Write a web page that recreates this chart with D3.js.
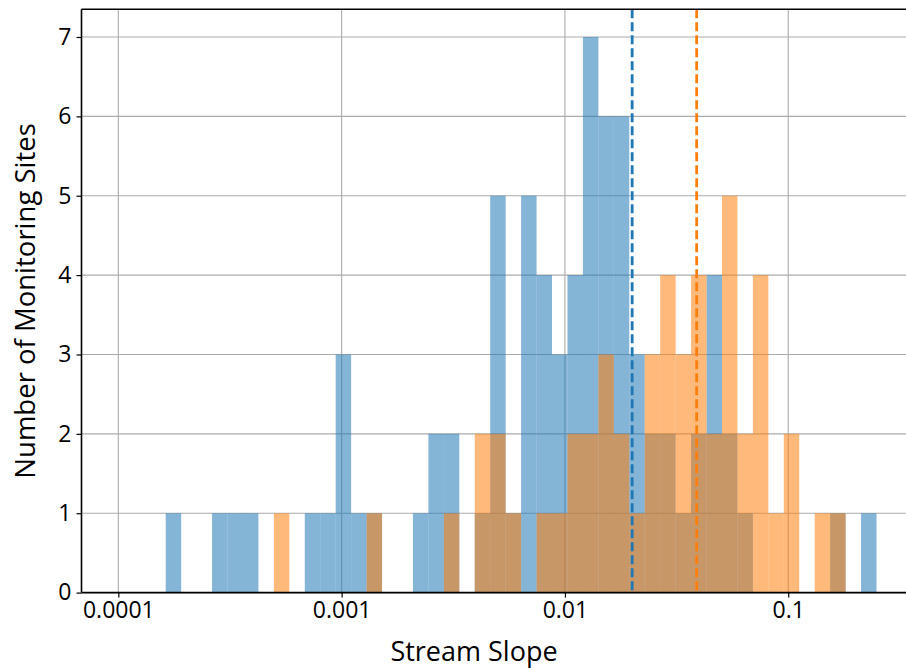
<!DOCTYPE html>
<html>
<head>
<meta charset="utf-8">
<script src="https://cdn.jsdelivr.net/npm/d3@7"></script>
<style>
  html, body { margin: 0; padding: 0; background: #fff; }
  svg { display: block; }
  text { font-family: "Open Sans", "Noto Sans", sans-serif; fill: #000; }
</style>
</head>
<body>
<svg id="chart" width="906" height="668"></svg>
<script>
// Histogram bins: equal widths in log space
const binLo = 1.63e-4;
const binHi = 0.2485;
const binCount = 46;

// Site counts per bin, two groups of monitoring sites
const blueCounts = [1,0,0,1,1,1,0,0,0,1, 1,3,1,1,0,0,1,2,2,0, 1,5,1,5,4,3,4,7,6,6, 3,2,2,1,2,4,2,1,0,0, 0,0,0,1,0,1];
const orangeCounts = [0,0,0,0,0,0,0,1,0,0, 0,0,0,1,0,0,0,0,1,0, 2,2,1,0,1,1,2,2,3,2, 1,3,4,3,4,2,5,2,4,1, 2,0,1,1,0,0];

// Mean slope of each group (dashed markers)
const blueMean = 0.0200;
const orangeMean = 0.0389;

// Axis settings
const xLimits = [6.84e-5, 0.4];
const yLimits = [0, 7.35];
const xTickValues = [1e-4, 1e-3, 1e-2, 1e-1];
const xTickLabels = ["0.0001", "0.001", "0.01", "0.1"];
const yTickValues = [0, 1, 2, 3, 4, 5, 6, 7];
const xLabel = "Stream Slope";
const yLabel = "Number of Monitoring Sites";

const colors = { blue: "#1f77b4", orange: "#ff7f0e" };
const barOpacity = 0.55;

const svg = d3.select("#chart");
const plotLeft = 81.5, plotTop = 9.2, plotBottom = 592.6;
const decadePx = 223.3;
const plotRight = plotLeft + (Math.log10(xLimits[1]) - Math.log10(xLimits[0])) * decadePx;

const x = d3.scaleLog().domain(xLimits).range([plotLeft, plotRight]);
const y = d3.scaleLinear().domain(yLimits).range([plotBottom, plotTop]);

// bin edges
const l0 = Math.log10(binLo), l1 = Math.log10(binHi);
const edges = d3.range(binCount + 1).map(i => Math.pow(10, l0 + (l1 - l0) * i / binCount));

const plot = svg.append("g");

// grid
const grid = plot.append("g").attr("stroke", "#ababab").attr("stroke-width", 1.1);
grid.selectAll("line.gx").data(xTickValues).join("line")
  .attr("x1", d => x(d)).attr("x2", d => x(d))
  .attr("y1", plotTop).attr("y2", plotBottom);
grid.selectAll("line.gy").data(yTickValues).join("line")
  .attr("x1", plotLeft).attr("x2", plotRight)
  .attr("y1", d => y(d)).attr("y2", d => y(d));

// bars
function drawBars(counts, color) {
  plot.append("g").selectAll("rect")
    .data(counts.map((c, i) => ({ c, x0: edges[i], x1: edges[i + 1] })).filter(d => d.c > 0))
    .join("rect")
    .attr("x", d => x(d.x0))
    .attr("width", d => x(d.x1) - x(d.x0))
    .attr("y", d => y(d.c))
    .attr("height", d => y(0) - y(d.c))
    .attr("fill", color)
    .attr("fill-opacity", barOpacity);
}
drawBars(blueCounts, colors.blue);
drawBars(orangeCounts, colors.orange);

// mean markers
[[blueMean, colors.blue], [orangeMean, colors.orange]].forEach(([v, c]) => {
  plot.append("line")
    .attr("x1", x(v)).attr("x2", x(v))
    .attr("y1", plotTop).attr("y2", plotBottom)
    .attr("stroke", c).attr("stroke-width", 2.8)
    .attr("stroke-dasharray", "9,4");
});

// axes
const xAxis = d3.axisBottom(x)
  .tickValues(xTickValues)
  .tickFormat((d, i) => xTickLabels[i])
  .tickSize(5).tickPadding(4);
const minorTicks = [];
for (let e = -5; e <= -1; e++) for (let m = 2; m <= 9; m++) {
  const v = m * Math.pow(10, e);
  if (v > xLimits[0] && v < xLimits[1]) minorTicks.push(v);
}
const xMinor = d3.axisBottom(x).tickValues(minorTicks).tickFormat("").tickSize(3);

const gx = svg.append("g").attr("transform", `translate(0,${plotBottom})`);
gx.call(xMinor);
gx.call(xAxis);
gx.selectAll(".domain").remove();
gx.selectAll("text").attr("font-size", 23).attr("fill", "#000");
gx.selectAll("line").attr("stroke", "#000").attr("stroke-width", 1.2);

const yAxis = d3.axisLeft(y).tickValues(yTickValues).tickFormat(d3.format("d")).tickSize(5).tickPadding(5);
const gy = svg.append("g").attr("transform", `translate(${plotLeft},0)`);
gy.call(yAxis);
gy.selectAll(".domain").remove();
gy.selectAll("text").attr("font-size", 23).attr("fill", "#000");
gy.selectAll("line").attr("stroke", "#000").attr("stroke-width", 1.2);

// spines
const spines = svg.append("g").attr("stroke", "#000").attr("stroke-width", 1.6).attr("fill", "none");
spines.append("line").attr("x1", plotLeft).attr("x2", plotLeft).attr("y1", plotTop).attr("y2", plotBottom);
spines.append("line").attr("x1", plotLeft).attr("x2", plotRight).attr("y1", plotBottom).attr("y2", plotBottom);
spines.append("line").attr("x1", plotLeft).attr("x2", plotRight).attr("y1", plotTop).attr("y2", plotTop);
spines.append("line").attr("x1", plotRight).attr("x2", plotRight).attr("y1", plotTop).attr("y2", plotBottom);

// axis labels
svg.append("text")
  .attr("x", 474).attr("y", 661)
  .attr("text-anchor", "middle")
  .attr("font-size", 27)
  .text(xLabel);
svg.append("text")
  .attr("transform", `translate(35,${(plotTop + plotBottom) / 2}) rotate(-90)`)
  .attr("text-anchor", "middle")
  .attr("font-size", 27.5)
  .text(yLabel);
</script>
</body>
</html>
